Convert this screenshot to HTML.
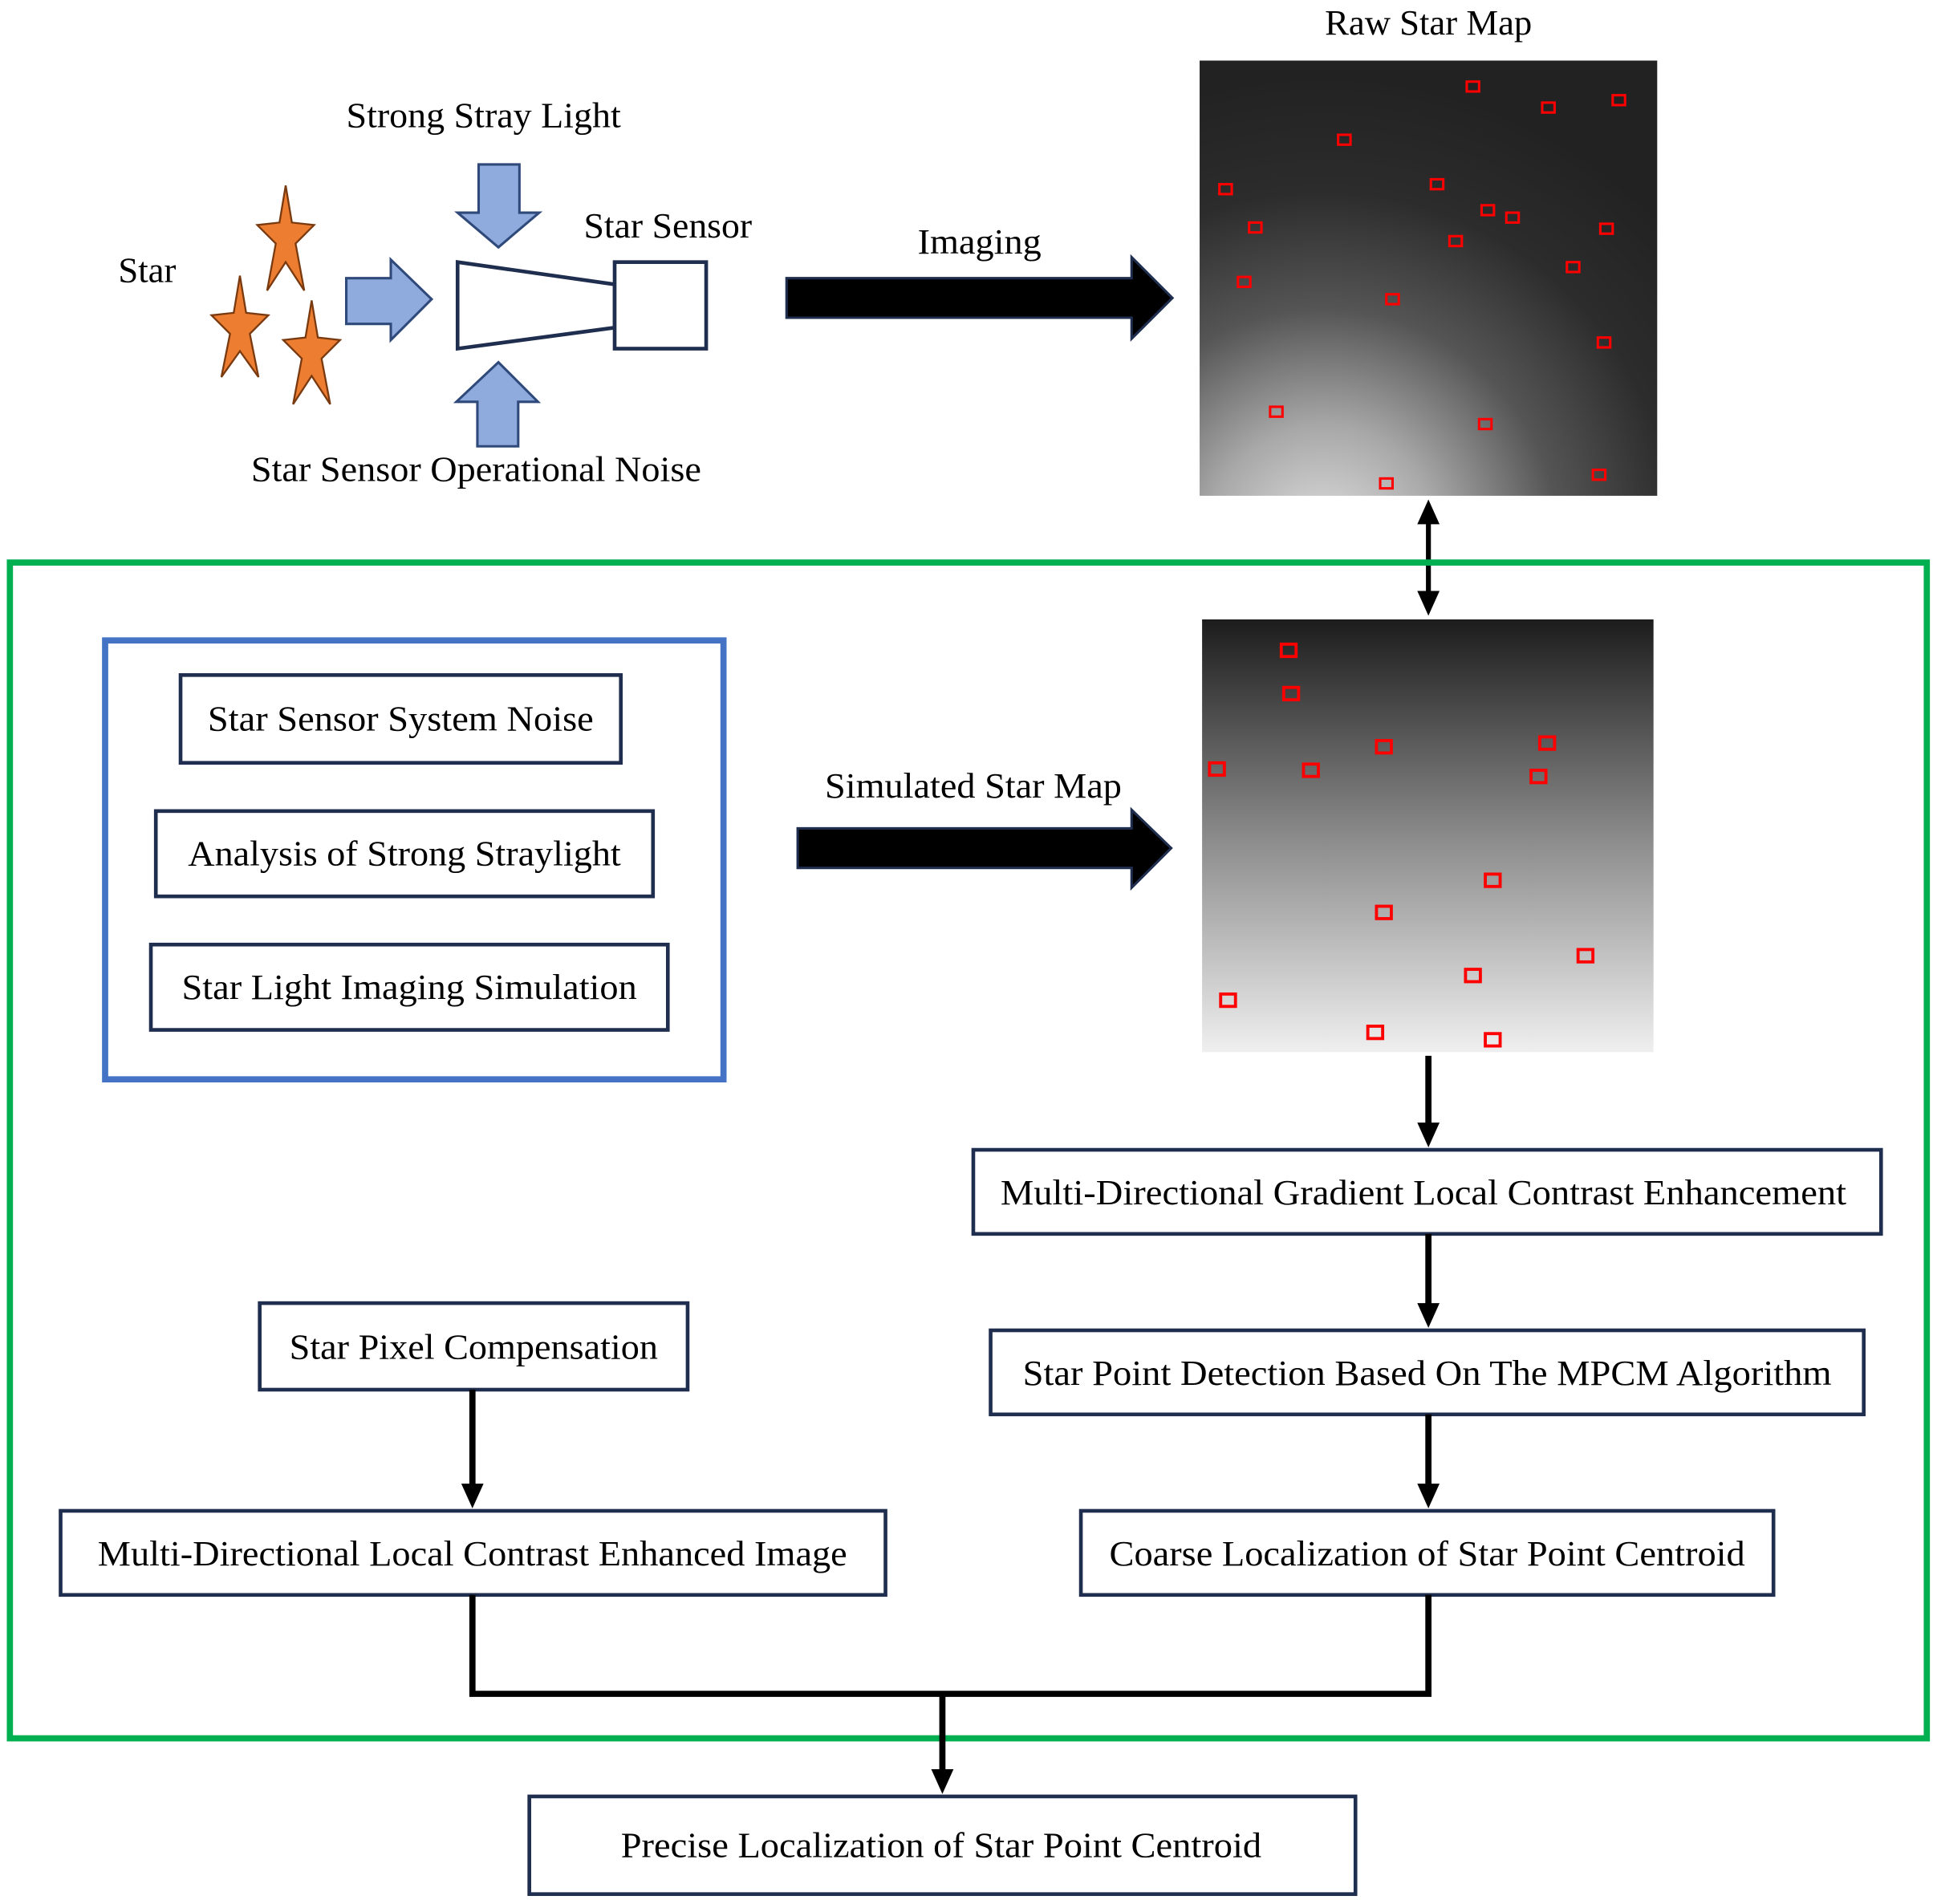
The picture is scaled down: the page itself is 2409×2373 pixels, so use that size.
<!DOCTYPE html>
<html><head><style>html,body{margin:0;padding:0;background:#fff}svg{display:block}</style></head>
<body>
<svg width="2409" height="2373" viewBox="0 0 1563 1540" preserveAspectRatio="none" xmlns="http://www.w3.org/2000/svg" font-family="Liberation Serif, serif" font-size="29" fill="#000">
<defs>
<radialGradient id="rg" cx="1070" cy="440" r="380" gradientUnits="userSpaceOnUse">
<stop offset="0" stop-color="#e2e2e2"/><stop offset="0.25" stop-color="#a8a8a8"/><stop offset="0.5" stop-color="#555"/><stop offset="0.75" stop-color="#2c2c2c"/><stop offset="1" stop-color="#222"/>
</radialGradient>
<linearGradient id="lg" x1="0" y1="0" x2="0" y2="1">
<stop offset="0" stop-color="#1c1c1c"/><stop offset="0.5" stop-color="#8a8a8a"/><stop offset="1" stop-color="#efefef"/>
</linearGradient>
</defs>

<text x="1155" y="28" text-anchor="middle">Raw Star Map</text>
<rect x="970" y="49" width="370" height="352" fill="url(#rg)"/>
<g fill="none" stroke="#f00" stroke-width="2">
<rect x="1186" y="66" width="10" height="8"/><rect x="1247" y="83" width="10" height="8"/><rect x="1304" y="77" width="10" height="8"/>
<rect x="1082" y="109" width="10" height="8"/><rect x="986" y="149" width="10" height="8"/><rect x="1157" y="145" width="10" height="8"/>
<rect x="1198" y="166" width="10" height="8"/><rect x="1218" y="172" width="10" height="8"/><rect x="1010" y="180" width="10" height="8"/>
<rect x="1294" y="181" width="10" height="8"/><rect x="1172" y="191" width="10" height="8"/><rect x="1267" y="212" width="10" height="8"/>
<rect x="1001" y="224" width="10" height="8"/><rect x="1121" y="238" width="10" height="8"/><rect x="1292" y="273" width="10" height="8"/>
<rect x="1027" y="329" width="10" height="8"/><rect x="1196" y="339" width="10" height="8"/><rect x="1288" y="380" width="10" height="8"/>
<rect x="1116" y="387" width="10" height="8"/>
</g>

<g fill="#ed7d31" stroke="#7a3a10" stroke-width="1.5">
<polygon points="231,150 236,180 254,182 239,197 246,235 231,212 216,235 223,197 208,182 226,180"/>
<polygon points="194,223 199,253 217,255 202,270 209,305 194,284 179,305 186,270 171,255 189,253"/>
<polygon points="252,243 257,273 275,275 260,290 267,327 252,304 237,327 244,290 229,275 247,273"/>
</g>
<text x="119" y="228" text-anchor="middle">Star</text>
<text x="391" y="103" text-anchor="middle" textLength="222" lengthAdjust="spacingAndGlyphs">Strong Stray Light</text>
<text x="540" y="192" text-anchor="middle" textLength="136" lengthAdjust="spacingAndGlyphs">Star Sensor</text>
<text x="385" y="389" text-anchor="middle" textLength="364" lengthAdjust="spacingAndGlyphs">Star Sensor Operational Noise</text>

<g fill="#8faadc" stroke="#2f4a7a" stroke-width="2">
<polygon points="387,133 420,133 420,172 436,172 403,200 370,172 387,172"/>
<polygon points="403,293 435,325 419,325 419,361 386,361 386,325 369,325"/>
<polygon points="280,225 316,225 316,210 349,242 316,275 316,262 280,262"/>
</g>
<g fill="#fff" stroke="#1f2d4e" stroke-width="3">
<polygon points="370,212 497,230 497,265 370,282"/>
<rect x="497" y="212" width="74" height="70"/>
</g>

<text x="792" y="205" text-anchor="middle" textLength="100" lengthAdjust="spacingAndGlyphs">Imaging</text>
<polygon points="636,225 915,225 915,208 948,241 915,274 915,257 636,257" fill="#000" stroke="#1f2d4e" stroke-width="2"/>

<line x1="1155" y1="420" x2="1155" y2="482" stroke="#000" stroke-width="4"/>
<polygon points="1155,404 1146,424 1164,424" fill="#000"/>
<polygon points="1155,498 1146,478 1164,478" fill="#000"/>

<rect x="8" y="455" width="1550" height="951" fill="none" stroke="#00b050" stroke-width="5"/>
<rect x="85" y="518" width="500" height="355" fill="none" stroke="#4472c4" stroke-width="5"/>

<g fill="#fff" stroke="#1f2d4e" stroke-width="3">
<rect x="146" y="546" width="356" height="71"/>
<rect x="126" y="656" width="402" height="69"/>
<rect x="122" y="764" width="418" height="69"/>
<rect x="787" y="930" width="734" height="68"/>
<rect x="801" y="1076" width="706" height="68"/>
<rect x="874" y="1222" width="560" height="68"/>
<rect x="210" y="1054" width="346" height="70"/>
<rect x="49" y="1222" width="667" height="68"/>
<rect x="428" y="1453" width="668" height="79"/>
</g>
<g text-anchor="middle">
<text x="324" y="591" textLength="312" lengthAdjust="spacingAndGlyphs">Star Sensor System Noise</text>
<text x="327" y="700" textLength="350" lengthAdjust="spacingAndGlyphs">Analysis of Strong Straylight</text>
<text x="331" y="808" textLength="368" lengthAdjust="spacingAndGlyphs">Star Light Imaging Simulation</text>
<text x="1151" y="974" textLength="684" lengthAdjust="spacingAndGlyphs">Multi-Directional Gradient Local Contrast Enhancement</text>
<text x="1154" y="1120" textLength="654" lengthAdjust="spacingAndGlyphs">Star Point Detection Based On The MPCM Algorithm</text>
<text x="1154" y="1266" textLength="514" lengthAdjust="spacingAndGlyphs">Coarse Localization of Star Point Centroid</text>
<text x="383" y="1099" textLength="298" lengthAdjust="spacingAndGlyphs">Star Pixel Compensation</text>
<text x="382" y="1266" textLength="606" lengthAdjust="spacingAndGlyphs">Multi-Directional Local Contrast Enhanced Image</text>
<text x="761" y="1502" textLength="518" lengthAdjust="spacingAndGlyphs">Precise Localization of Star Point Centroid</text>
</g>

<text x="787" y="645" text-anchor="middle" textLength="240" lengthAdjust="spacingAndGlyphs">Simulated Star Map</text>
<polygon points="645,670 915,670 915,655 947,686 915,718 915,702 645,702" fill="#000" stroke="#1f2d4e" stroke-width="2"/>
<rect x="972" y="501" width="365" height="350" fill="url(#lg)"/>
<g fill="none" stroke="#f00" stroke-width="2.5">
<rect x="1036" y="521" width="12" height="10"/><rect x="1038" y="556" width="12" height="10"/><rect x="1113" y="599" width="12" height="10"/>
<rect x="1245" y="596" width="12" height="10"/><rect x="978" y="617" width="12" height="10"/><rect x="1054" y="618" width="12" height="10"/>
<rect x="1238" y="623" width="12" height="10"/><rect x="1201" y="707" width="12" height="10"/><rect x="1113" y="733" width="12" height="10"/>
<rect x="1276" y="768" width="12" height="10"/><rect x="1185" y="784" width="12" height="10"/><rect x="987" y="804" width="12" height="10"/>
<rect x="1106" y="830" width="12" height="10"/><rect x="1201" y="836" width="12" height="10"/>
</g>

<g stroke="#000" stroke-width="5" fill="none">
<line x1="1155" y1="854" x2="1155" y2="912"/>
<line x1="1155" y1="998" x2="1155" y2="1058"/>
<line x1="1155" y1="1144" x2="1155" y2="1204"/>
<line x1="382" y1="1124" x2="382" y2="1204"/>
<polyline points="382,1290 382,1370 1155,1370 1155,1290"/>
<line x1="762" y1="1370" x2="762" y2="1434"/>
</g>
<g fill="#000">
<polygon points="1155,928 1146,908 1164,908"/>
<polygon points="1155,1074 1146,1054 1164,1054"/>
<polygon points="1155,1220 1146,1200 1164,1200"/>
<polygon points="382,1220 373,1200 391,1200"/>
<polygon points="762,1451 753,1431 771,1431"/>
</g>
</svg>
</body></html>
